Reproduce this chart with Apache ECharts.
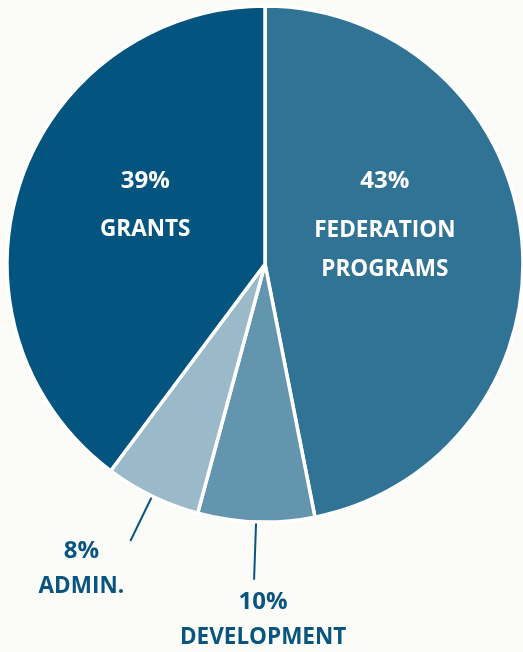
<!DOCTYPE html>
<html lang="en">
<head>
    <meta charset="utf-8">
    <style>
        html, body { margin: 0; padding: 0; background: #fbfcf7; }
        #chart { width: 523px; height: 652px; }
    </style>
</head>
<body>
<div id="chart"></div>
<script src="https://cdn.jsdelivr.net/npm/echarts@6/dist/echarts.min.js"></script>
<script type="text/javascript">

// slices, clockwise from 12 o'clock
var categories = ['FEDERATION\nPROGRAMS', 'DEVELOPMENT', 'ADMIN.', 'GRANTS'];
// share of the circle as drawn (measured from the slice angles)
var sliceShares = [46.9, 7.3, 6.0, 39.8];
// percentages as printed on the chart
var percentLabels = ['43%', '10%', '8%', '39%'];
var sliceColors = ['#317395', '#6395ae', '#9bbac9', '#03547e'];

var textDark = '#0a5580';
var font = '"Open Sans", "DejaVu Sans", sans-serif';

// label placement per slice (inside / outside and nudges)
var labelTweaks = [
    { inside: true, padding: [0, 23, 62, 0] },
    { inside: false, padding: [80, 0, 0, 0], width: 180, dist: -99, len: 58 },
    { inside: false, padding: [56, 0, 0, 0], width: 96, dist: 1, len: 50 },
    { inside: true, padding: [0, 0, 44, 11] }
];

var chart = echarts.init(document.getElementById('chart'));

var data = categories.map(function (name, i) {
    var t = labelTweaks[i];
    var names = name.split('\n');
    var item = {
        name: name,
        value: sliceShares[i],
        itemStyle: { color: sliceColors[i] }
    };
    if (t.inside) {
        item.label = {
            position: 'inside',
            padding: t.padding,
            formatter: '{p|' + percentLabels[i] + '}\n' +
                names.map(function (n) { return '{n|' + n + '}'; }).join('\n')
        };
        item.labelLine = { show: false };
    } else {
        item.label = {
            position: 'outside',
            padding: t.padding,
            distanceToLabelLine: t.dist,
            formatter: '{op|' + percentLabels[i] + '}\n{on|' + name + '}',
            rich: {
                op: { width: t.width, align: 'center' },
                on: { width: t.width, align: 'center' }
            }
        };
        item.labelLine = { show: true, length: t.len, length2: 0 };
    }
    return item;
});

chart.setOption({
    backgroundColor: '#fbfcf7',
    animation: false,
    series: [{
        type: 'pie',
        center: [265, 264],
        radius: [0, 258],
        startAngle: 90,
        clockwise: true,
        avoidLabelOverlap: false,
        itemStyle: { borderColor: '#ffffff', borderWidth: 3.5 },
        label: {
            fontFamily: font,
            rich: {
                p: { fontFamily: font, fontSize: 24, fontWeight: 'bold', color: '#ffffff', lineHeight: 59 },
                n: { fontFamily: font, fontSize: 22.5, fontWeight: 'bold', color: '#ffffff', lineHeight: 39 },
                op: { fontFamily: font, fontSize: 24, fontWeight: 'bold', color: textDark, lineHeight: 35 },
                on: { fontFamily: font, fontSize: 22.5, fontWeight: 'bold', color: textDark, lineHeight: 36 }
            }
        },
        labelLine: {
            lineStyle: { color: textDark, width: 2 },
            minTurnAngle: 0
        },
        data: data
    }]
});

</script>
</body>
</html>
